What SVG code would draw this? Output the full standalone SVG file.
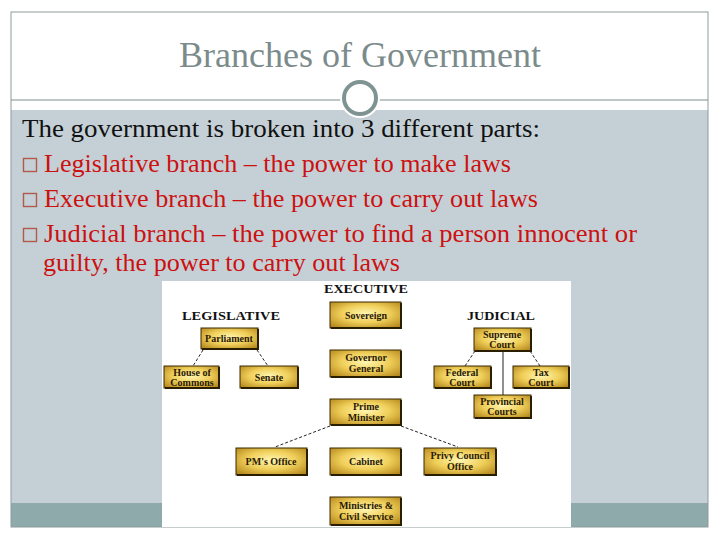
<svg xmlns="http://www.w3.org/2000/svg" width="720" height="540" viewBox="0 0 720 540">
<style>
.title{font-family:"Liberation Serif","DejaVu Serif",serif;font-size:36px;fill:#7b8b8b}
.body{font-family:"Liberation Serif","DejaVu Serif",serif;font-size:25px}
.blk{fill:#111}
.red{fill:#cc1111}
.bul{fill:none;stroke:#b05a4a;stroke-width:1.4}
.hdr{font-family:"Liberation Serif","DejaVu Serif",serif;font-size:12px;font-weight:bold;fill:#111;text-anchor:middle}
.box{fill:url(#gold);stroke:#3a2a00;stroke-width:1}
.sh{fill:none;stroke:#2a1e00;stroke-width:2}
.lbl{font-family:"Liberation Serif","DejaVu Serif",serif;font-size:10px;font-weight:bold;fill:#2a1a05;text-anchor:middle}
.con{stroke:#222;stroke-width:1;fill:none;stroke-dasharray:3 2}
.sol{stroke:#222;stroke-width:1;fill:none}
</style>
<defs>
<radialGradient id="gold" cx="0.5" cy="0.45" r="0.75">
<stop offset="0" stop-color="#fff6b0"/>
<stop offset="0.45" stop-color="#f0cf5a"/>
<stop offset="1" stop-color="#a8780f"/>
</radialGradient>
</defs>
<rect x="0" y="0" width="720" height="540" fill="#ffffff"/>
<rect x="11" y="110" width="697" height="393" fill="#c5d0d6"/>
<rect x="11" y="503" width="697" height="24" fill="#8eaaaa"/>
<rect x="11" y="12" width="697" height="515" fill="none" stroke="#8c9c9c" stroke-width="1"/>
<line x1="11" y1="100" x2="708" y2="100" stroke="#7f8f8f" stroke-width="1"/>
<circle cx="360" cy="98" r="20" fill="#ffffff"/>
<circle cx="360" cy="98" r="16" fill="#ffffff" stroke="#7f9393" stroke-width="4"/>
<text class="title" x="179" y="67" textLength="362" lengthAdjust="spacingAndGlyphs">Branches of Government</text>
<text class="body blk" x="22" y="137" textLength="518" lengthAdjust="spacingAndGlyphs">The government is broken into 3 different parts:</text>
<rect class="bul" x="23.5" y="158.5" width="13" height="13"/>
<text class="body red" x="44" y="172" textLength="467" lengthAdjust="spacingAndGlyphs">Legislative branch – the power to make laws</text>
<rect class="bul" x="23.5" y="193.5" width="13" height="13"/>
<text class="body red" x="44" y="207" textLength="494" lengthAdjust="spacingAndGlyphs">Executive branch – the power to carry out laws</text>
<rect class="bul" x="23.5" y="228.5" width="13" height="13"/>
<text class="body red" x="44" y="242" textLength="593" lengthAdjust="spacingAndGlyphs">Judicial branch – the power to find a person innocent or</text>
<text class="body red" x="43" y="271" textLength="357" lengthAdjust="spacingAndGlyphs">guilty, the power to carry out laws</text>

<rect x="162" y="281" width="409" height="246" fill="#ffffff"/>
<text class="hdr" x="366" y="293" textLength="84" lengthAdjust="spacingAndGlyphs">EXECUTIVE</text>
<text class="hdr" x="231" y="320" textLength="98" lengthAdjust="spacingAndGlyphs">LEGISLATIVE</text>
<text class="hdr" x="501" y="320" textLength="68" lengthAdjust="spacingAndGlyphs">JUDICIAL</text>

<g id="connectors">
<line class="con" x1="203" y1="350" x2="193" y2="366"/>
<line class="con" x1="257" y1="350" x2="268" y2="366"/>
<line class="con" x1="475" y1="351" x2="465" y2="366"/>
<line class="con" x1="530" y1="351" x2="540" y2="366"/>
<line class="sol" x1="503" y1="351" x2="503" y2="395"/>
<line class="con" x1="330" y1="426" x2="275" y2="447"/>
<line class="con" x1="401" y1="426" x2="458" y2="447"/>
</g>

<g id="sovereign"><rect class="box" x="330" y="302" width="71" height="26"/><path class="sh" d="M331 328 H401 V303"/><text class="lbl" x="366" y="319">Sovereign</text></g>
<g id="governor-general"><rect class="box" x="330" y="350" width="71" height="27"/><path class="sh" d="M331 377 H401 V351"/><text class="lbl" x="366" y="361">Governor</text><text class="lbl" x="366" y="372">General</text></g>
<g id="prime-minister"><rect class="box" x="330" y="399" width="71" height="26"/><path class="sh" d="M331 425 H401 V400"/><text class="lbl" x="366" y="410">Prime</text><text class="lbl" x="366" y="421">Minister</text></g>
<g id="cabinet"><rect class="box" x="330" y="448" width="71" height="27"/><path class="sh" d="M331 475 H401 V449"/><text class="lbl" x="366" y="465">Cabinet</text></g>
<g id="ministries"><rect class="box" x="330" y="497" width="71" height="28"/><path class="sh" d="M331 525 H401 V498"/><text class="lbl" x="366" y="509">Ministries &amp;</text><text class="lbl" x="366" y="520">Civil Service</text></g>
<g id="pms-office"><rect class="box" x="236" y="448" width="71" height="27"/><path class="sh" d="M237 475 H307 V449"/><text class="lbl" x="271" y="465">PM's Office</text></g>
<g id="privy-council"><rect class="box" x="424" y="448" width="72" height="27"/><path class="sh" d="M425 475 H496 V449"/><text class="lbl" x="460" y="459">Privy Council</text><text class="lbl" x="460" y="470">Office</text></g>
<g id="parliament"><rect class="box" x="201" y="328" width="57" height="21"/><path class="sh" d="M202 349 H258 V329"/><text class="lbl" x="229" y="342">Parliament</text></g>
<g id="house-of-commons"><rect class="box" x="164" y="366" width="55" height="22"/><path class="sh" d="M165 388 H219 V367"/><text class="lbl" x="192" y="376">House of</text><text class="lbl" x="192" y="386">Commons</text></g>
<g id="senate"><rect class="box" x="240" y="366" width="58" height="22"/><path class="sh" d="M241 388 H298 V367"/><text class="lbl" x="269" y="381">Senate</text></g>
<g id="supreme-court"><rect class="box" x="474" y="328" width="57" height="23"/><path class="sh" d="M475 351 H531 V329"/><text class="lbl" x="502" y="338">Supreme</text><text class="lbl" x="502" y="348">Court</text></g>
<g id="federal-court"><rect class="box" x="434" y="366" width="57" height="22"/><path class="sh" d="M435 388 H491 V367"/><text class="lbl" x="462" y="376">Federal</text><text class="lbl" x="462" y="386">Court</text></g>
<g id="tax-court"><rect class="box" x="513" y="366" width="56" height="22"/><path class="sh" d="M514 388 H569 V367"/><text class="lbl" x="541" y="376">Tax</text><text class="lbl" x="541" y="386">Court</text></g>
<g id="provincial-courts"><rect class="box" x="474" y="395" width="57" height="23"/><path class="sh" d="M475 418 H531 V396"/><text class="lbl" x="502" y="405">Provincial</text><text class="lbl" x="502" y="415">Courts</text></g>
</svg>
